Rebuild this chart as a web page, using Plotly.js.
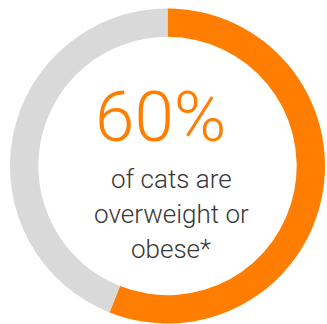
<!DOCTYPE html>
<html>
<head>
<meta charset="utf-8">
<script src="https://cdn.plot.ly/plotly-3.0.1.min.js"></script>
<style>html,body{margin:0;padding:0;background:#fff;}#chart{width:327px;height:324px;}</style>
</head>
<body>
<div id="chart"></div>
<script>
var labels = ["Overweight or obese", "Other"];
var values = [56, 44];
var colors = ["#FF7D00", "#D9D9D9"];
var headline = "60%";
var captionLines = ["of cats are", "overweight or", "obese*"];

var W = 327, H = 324;
function px(x) { return x / W; }
function py(y) { return 1 - y / H; }

var trace = {
  type: "pie",
  labels: labels,
  values: values,
  hole: 0.82,
  sort: false,
  direction: "clockwise",
  rotation: 0,
  textinfo: "none",
  hoverinfo: "none",
  marker: { colors: colors, line: { width: 0 } },
  domain: { x: [px(10), px(325)], y: [py(323.5), py(8.5)] },
  showlegend: false
};

var annotations = [{
  text: headline,
  xref: "paper", yref: "paper",
  x: px(160), y: py(116),
  xanchor: "center", yanchor: "middle",
  showarrow: false,
  font: { family: "Roboto, sans-serif", size: 71, color: "#FF7D00", weight: 300 }
}];
var baselines = [186.7, 221.7, 256.7];
for (var i = 0; i < captionLines.length; i++) {
  annotations.push({
    text: captionLines[i],
    xref: "paper", yref: "paper",
    x: px(171), y: py(baselines[i] - 8),
    xanchor: "center", yanchor: "middle",
    showarrow: false,
    font: { family: "Roboto, sans-serif", size: 26, color: "#383838", weight: 300 }
  });
}

var layout = {
  width: W, height: H,
  margin: { l: 0, r: 0, t: 0, b: 0 },
  paper_bgcolor: "#ffffff",
  plot_bgcolor: "#ffffff",
  showlegend: false,
  annotations: annotations
};

Plotly.newPlot("chart", [trace], layout, { displayModeBar: false, staticPlot: true });
</script>
</body>
</html>
